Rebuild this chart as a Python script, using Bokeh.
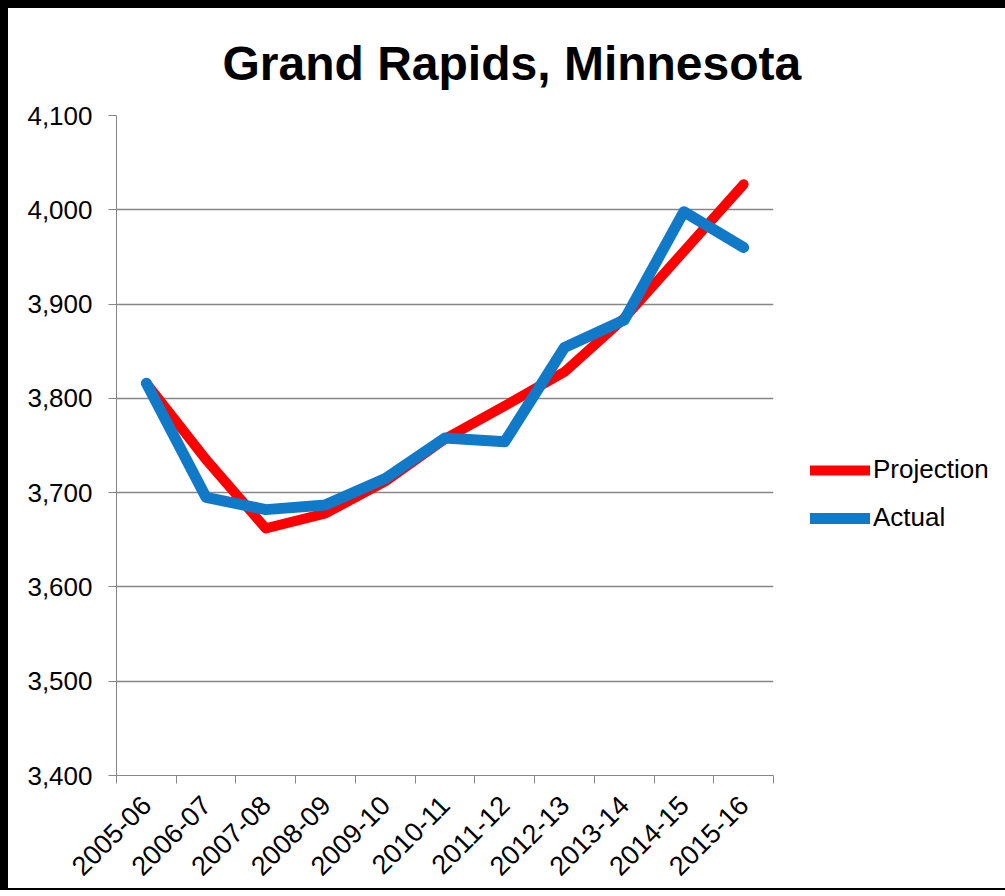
from bokeh.plotting import figure
from bokeh.models import (Range1d, FixedTicker, NumeralTickFormatter, Legend, LegendItem,
                          ColumnDataSource)
from bokeh.embed import file_html
from bokeh.resources import INLINE
import math

title_text = "Grand Rapids, Minnesota"
categories = ["2005-06", "2006-07", "2007-08", "2008-09", "2009-10", "2010-11",
              "2011-12", "2012-13", "2013-14", "2014-15", "2015-16"]
projection = [3816, 3735, 3662, 3678, 3712, 3757, 3792, 3828, 3885, 3956, 4027]
actual = [3816, 3695, 3682, 3687, 3715, 3758, 3754, 3854, 3883, 3998, 3960]
y_ticks = [3400, 3500, 3600, 3700, 3800, 3900, 4000, 4100]

FONT = "Liberation Sans"
GRAY = "#868686"

xpos = [i + 0.5 for i in range(len(categories))]
src = ColumnDataSource(dict(x=xpos, cat=categories, projection=projection, actual=actual))

p = figure(width=993, height=880, output_backend="svg", toolbar_location=None,
           x_range=Range1d(0, len(categories)), y_range=Range1d(y_ticks[0], y_ticks[-1]),
           min_border_left=108, min_border_right=228, min_border_top=107, min_border_bottom=113)
p.frame_width = 657
p.frame_height = 660
p.styles = {"border-left": "8px solid black", "border-top": "8px solid black",
            "border-bottom": "2px solid black"}
p.outline_line_color = None
p.background_fill_color = "white"
p.border_fill_color = "white"

p.title.text = title_text
p.title.text_font = FONT
p.title.text_font_size = "48px"
p.title.text_font_style = "bold"
p.title.text_color = "black"
p.title.align = "left"
p.title.offset = 106
p.title.vertical_align = "top"
p.title.standoff = 48

r1 = p.line("x", "projection", source=src, line_color="#FF0000", line_width=10,
            line_join="round", line_cap="round")
r2 = p.line("x", "actual", source=src, line_color="#1079C8", line_width=11,
            line_join="round", line_cap="round")

# x axis
xa = p.xaxis[0]
xa.ticker = FixedTicker(ticks=xpos, minor_ticks=list(range(len(categories) + 1)))
xa.major_label_overrides = {x: c for x, c in zip(xpos, categories)}
xa.major_label_orientation = math.pi / 4
xa.major_tick_out = 0
xa.major_tick_in = 0
xa.minor_tick_out = 8
xa.minor_tick_in = 0
xa.minor_tick_line_color = GRAY
xa.axis_line_color = GRAY
xa.major_label_text_font = FONT
xa.major_label_text_font_size = "27px"
xa.major_label_text_color = "black"
xa.major_label_standoff = 17

# y axis
ya = p.yaxis[0]
ya.ticker = FixedTicker(ticks=y_ticks)
ya.formatter = NumeralTickFormatter(format="0,0")
ya.major_tick_out = 8
ya.major_tick_in = 0
ya.minor_tick_line_color = None
ya.major_tick_line_color = GRAY
ya.axis_line_color = GRAY
ya.major_label_text_font = FONT
ya.major_label_text_font_size = "26px"
ya.major_label_text_color = "black"
ya.major_label_standoff = 16

p.xgrid.grid_line_color = None
p.ygrid.grid_line_color = GRAY
p.ygrid.grid_line_width = 1.5

legend = Legend(items=[LegendItem(label="Projection", renderers=[r1]),
                       LegendItem(label="Actual", renderers=[r2])],
                location=(37, 242), orientation="vertical")
legend.border_line_color = None
legend.background_fill_alpha = 0
legend.padding = 0
legend.margin = 0
legend.label_text_font = FONT
legend.label_text_font_size = "26px"
legend.label_text_color = "black"
legend.glyph_width = 60
legend.glyph_height = 30
legend.label_height = 30
legend.spacing = 17
legend.label_standoff = 3
p.add_layout(legend, "right")

open("out.html", "w").write(file_html(p, INLINE))
